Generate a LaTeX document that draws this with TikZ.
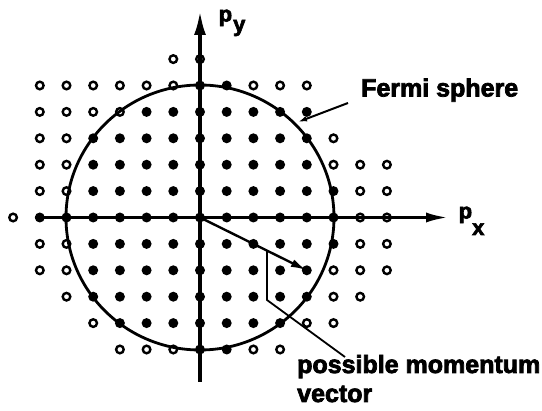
\documentclass[tikz,border=0pt]{standalone}
\usepackage{fontspec}
\setmainfont{Liberation Sans}[BoldFeatures={FakeBold=3}]
\usetikzlibrary{arrows.meta}
\begin{document}
\begin{tikzpicture}[x=1pt,y=-1pt,
  fdot/.style={circle,fill=black,inner sep=0pt,minimum size=10pt},
  odot/.style={circle,draw=black,line width=2.4pt,inner sep=0pt,minimum size=7.6pt},
  axisline/.style={line width=3.4pt,-{Latex[length=24pt,width=12pt]}},
  sphere/.style={line width=2.8pt},
  vecline/.style={line width=2.4pt,-{Latex[length=16pt,width=8pt]}},
  leader/.style={line width=1.8pt},
  lbl/.style={font=\bfseries\fontsize{25}{29}\selectfont,inner sep=0pt},
  axlbl/.style={font=\bfseries\fontsize{22}{26}\selectfont,inner sep=0pt}]
\useasboundingbox (0,0) rectangle (542,411);
% filled dots
\foreach \j/\lo/\hi in {5/0/1,4/-2/4,3/-4/4,2/-4/4,1/-4/5,0/-6/5,-1/-4/5,-2/-4/4,-3/-4/4,-4/-3/3,-5/0/1}
  \foreach \i in {\lo,...,\hi}
    \node[fdot] (f\i x\j) at ({200+26.7*\i},{217.5-26.4*\j}) {};
% open dots
\foreach \i/\j in {-1/6,0/6,
  -6/5,-5/5,-4/5,-3/5,-2/5,-1/5,2/5,3/5,4/5,
  -6/4,-5/4,-4/4,-3/4,
  -6/3,-5/3,5/3,
  -6/2,-5/2,5/2,6/2,7/2,
  -6/1,-5/1,6/1,7/1,
  -7/0,6/0,7/0,
  -6/-1,-5/-1,6/-1,7/-1,
  -6/-2,-5/-2,5/-2,6/-2,7/-2,
  -5/-3,5/-3,6/-3,
  -4/-4,4/-4,5/-4,
  -3/-5,-2/-5,-1/-5,2/-5,3/-5}
  \node[odot] (o\i x\j) at ({200+26.7*\i},{217.5-26.4*\j}) {};
% Fermi sphere
\coordinate (o) at (200,217.5);
\draw[sphere] (o) ellipse [x radius=134, y radius=132.5];
% axes
\coordinate (yb) at (200,382);
\coordinate (yt) at (200,11);
\coordinate (xl) at (35,217.5);
\coordinate (xr) at (449,217.5);
\draw[axisline] (yb) -- (yt);
\draw[axisline,-{Latex[length=23pt,width=10pt]}] (xl) -- (xr);
% axis labels
\node[axlbl,anchor=base west] (py) at (218.5,21.5) {p\kern1pt\raisebox{-10pt}{y}};
\node[axlbl,anchor=base west] (px) at (458.5,218.5) {p\raisebox{-16.5pt}{x}};
% momentum vector
\draw[vecline] (o) -- (f4x-2.center);
% leader for momentum vector
\coordinate (lv) at (267,250.5);
\coordinate (lb) at (267,300);
\coordinate (le) at (345,357);
\draw[leader] (lv) -- (lb) -- (le);
\node[lbl,anchor=base west] (pm) at (297,373) {possible momentum};
\node[lbl,anchor=base west] (vec) at (297,402) {vector};
% Fermi sphere label
\node[lbl,anchor=base west] (fs) at (361,96.5) {Fermi sphere};
\coordinate (fa) at (348,103);
\coordinate (fb) at (298,122);
\draw[line width=2pt,-{Latex[length=9pt,width=5.5pt]}] (fa) -- (fb);
\end{tikzpicture}
\end{document}
